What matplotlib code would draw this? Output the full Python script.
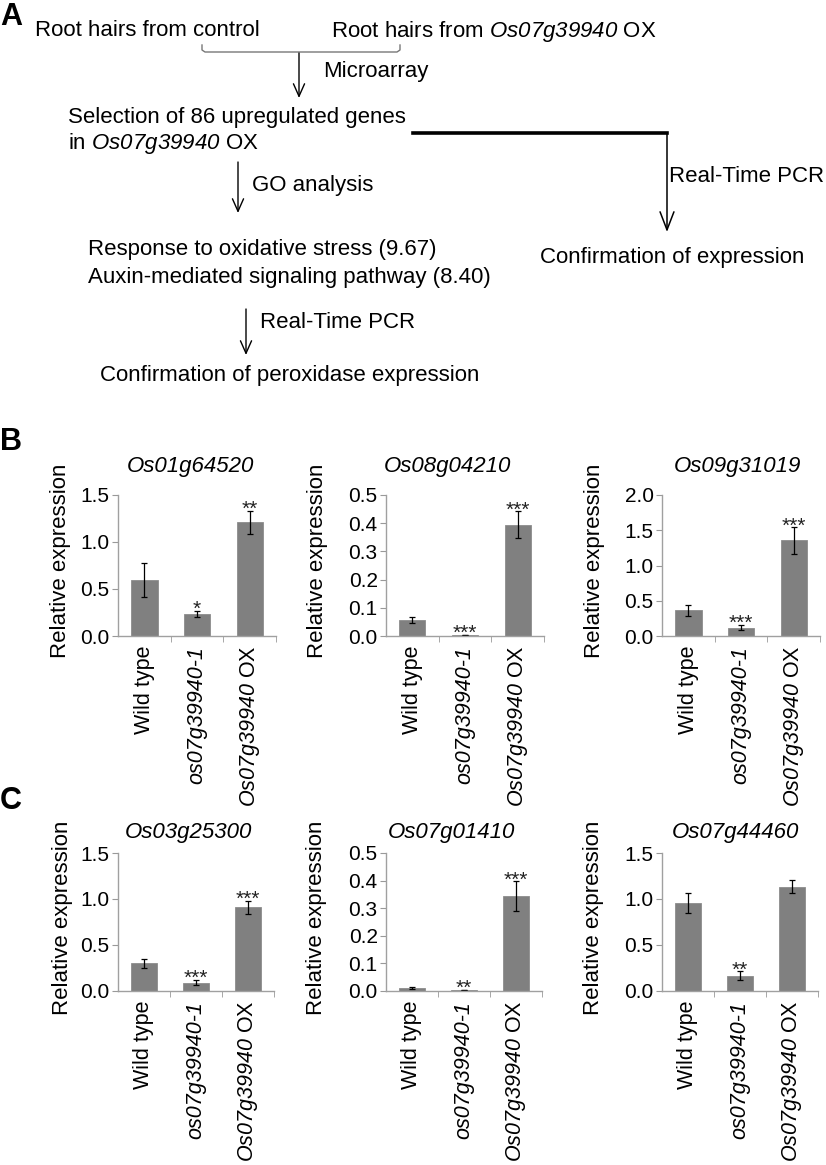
import matplotlib
matplotlib.use('Agg')
import matplotlib.pyplot as plt

plt.rcParams['font.family'] = ['Liberation Sans', 'DejaVu Sans']
# math text is only used for the italic gene names, so make digits italic too
plt.rcParams['mathtext.fontset'] = 'custom'
plt.rcParams['mathtext.rm'] = 'Liberation Sans:italic'
plt.rcParams['mathtext.it'] = 'Liberation Sans:italic'

# data
genotypes = ['Wild type', 'os07g39940-1', r'$Os07g39940$ OX']

genes_b = ['Os01g64520', 'Os08g04210', 'Os09g31019']
means_b = [[0.60, 0.235, 1.21], [0.056, 0.003, 0.395], [0.365, 0.12, 1.355]]
errs_b = [[0.18, 0.03, 0.125], [0.01, 0.001, 0.047], [0.075, 0.04, 0.185]]
stars_b = [['', '*', '**'], ['', '***', '***'], ['', '***', '***']]
ymax_b = [1.5, 0.5, 2.0]
ystep_b = [0.5, 0.1, 0.5]

genes_c = ['Os03g25300', 'Os07g01410', 'Os07g44460']
means_c = [[0.30, 0.09, 0.91], [0.011, 0.003, 0.344], [0.955, 0.165, 1.135]]
errs_c = [[0.045, 0.03, 0.07], [0.003, 0.001, 0.053], [0.11, 0.05, 0.07]]
stars_c = [['', '***', '***'], ['', '**', '***'], ['', '**', '']]
ymax_c = [1.5, 0.5, 1.5]
ystep_c = [0.5, 0.1, 0.5]

W, H = 826, 1165
fig = plt.figure(figsize=(W / 100, H / 100), dpi=100)

# ---- panel A: flow chart, drawn in pixel coordinates ----
bg = fig.add_axes([0, 0, 1, 1])
bg.set_xlim(0, W)
bg.set_ylim(H, 0)
bg.axis('off')

fs = 16
bg.text(0, 17, 'A', fontsize=22, fontweight='bold', va='center')
bg.text(0, 442, 'B', fontsize=22, fontweight='bold', va='center')
bg.text(0, 801, 'C', fontsize=22, fontweight='bold', va='center')

bg.text(35, 30, 'Root hairs from control', fontsize=fs, va='center')
bg.text(331, 32, r'Root hairs from $Os07g39940$ OX', fontsize=fs, va='center')
bg.text(323, 71, 'Microarray', fontsize=fs, va='center')
bg.text(68, 117, 'Selection of 86 upregulated genes', fontsize=fs, va='center')
bg.text(68, 144, r'in $Os07g39940$ OX', fontsize=fs, va='center')
bg.text(252, 185, 'GO analysis', fontsize=fs, va='center')
bg.text(669, 177, 'Real-Time PCR', fontsize=fs, va='center')
bg.text(88, 250, 'Response to oxidative stress (9.67)', fontsize=fs, va='center')
bg.text(88, 278, 'Auxin-mediated signaling pathway (8.40)', fontsize=fs, va='center')
bg.text(540, 257, 'Confirmation of expression', fontsize=fs, va='center')
bg.text(260, 323, 'Real-Time PCR', fontsize=fs, va='center')
bg.text(100, 375, 'Confirmation of peroxidase expression', fontsize=fs, va='center')

# bracket joining the two root hair samples
bg.plot([202, 202, 205, 397, 400, 400], [45, 50, 52, 52, 50, 45], color='#777777', lw=1)

thin = dict(arrowstyle='->,head_length=0.9,head_width=0.4', color='black', lw=1, shrinkA=0, shrinkB=0)
bg.annotate('', xy=(299, 98), xytext=(299, 53), arrowprops=thin)
bg.annotate('', xy=(238, 213), xytext=(238, 162), arrowprops=thin)
bg.annotate('', xy=(246, 355), xytext=(246, 309), arrowprops=thin)

bg.plot([413, 667], [133, 133], color='black', lw=2.6)
bg.annotate('', xy=(667, 232), xytext=(667, 133),
            arrowprops=dict(arrowstyle='->,head_length=1.3,head_width=0.5', color='black',
                            lw=1.1, shrinkA=0, shrinkB=0))


def bar_panel(rect, gene, means, errs, stars, ymax, ystep, title_x, title_y, ylabel_x):
    ax = fig.add_axes(rect)
    x = range(len(genotypes))
    ax.bar(x, means, width=0.5, color='#808080', edgecolor='#8c8c8c', linewidth=0.6,
           yerr=errs, error_kw=dict(ecolor='black', elinewidth=0.9, capsize=2, capthick=0.9))
    ax.set_xlim(-0.5, 2.5)
    ax.set_ylim(0, ymax)
    n = int(round(ymax / ystep))
    ticks = [i * ystep for i in range(n + 1)]
    ax.set_yticks(ticks)
    ax.set_yticklabels([f'{t:.1f}' for t in ticks], fontsize=15)
    ax.set_xticks(list(x))
    ax.set_xticklabels(genotypes, rotation=90, fontsize=15.5, va='top', ha='center')
    ax.get_xticklabels()[1].set_fontstyle('italic')
    ax.set_xticks([0.5, 1.5, 2.5], minor=True)
    ax.tick_params(axis='x', which='major', length=0, pad=7)
    ax.tick_params(axis='x', which='minor', length=4, color='#999999', direction='out')
    ax.tick_params(axis='y', length=4, color='#999999', pad=2)
    for s in ['top', 'right']:
        ax.spines[s].set_visible(False)
    for s in ['left', 'bottom']:
        ax.spines[s].set_color('#a0a0a0')
        ax.spines[s].set_linewidth(1)
    ax.set_ylabel('Relative expression', fontsize=16)
    ax.yaxis.set_label_coords(ylabel_x, 0.53)
    ax.text(title_x, title_y, gene, transform=ax.transAxes, fontsize=16, style='italic',
            ha='center', va='center')
    for i, (m, e, st) in enumerate(zip(means, errs, stars)):
        if st:
            ax.annotate(st, xy=(i, m + e), xytext=(0, -3), textcoords='offset points',
                        ha='center', va='baseline', fontsize=15, color='#222222')
    return ax


lefts = [118, 386, 662]
title_xs_b = [0.46, 0.39, 0.48]
ylab_xs_b = [-0.30, -0.37, -0.36]
for k in range(3):
    rect = [lefts[k] / W, 1 - 636 / H, 158 / W, 141 / H]
    bar_panel(rect, genes_b[k], means_b[k], errs_b[k], stars_b[k], ymax_b[k], ystep_b[k],
              title_xs_b[k], 1.2, ylab_xs_b[k])

title_xs_c = [0.45, 0.42, 0.47]
ylab_xs_c = [-0.29, -0.38, -0.37]
for k in range(3):
    rect = [lefts[k] / W, 1 - 991 / H, 156 / W, 138 / H]
    bar_panel(rect, genes_c[k], means_c[k], errs_c[k], stars_c[k], ymax_c[k], ystep_c[k],
              title_xs_c[k], 1.145, ylab_xs_c[k])

fig.savefig('out.png', dpi=100)
